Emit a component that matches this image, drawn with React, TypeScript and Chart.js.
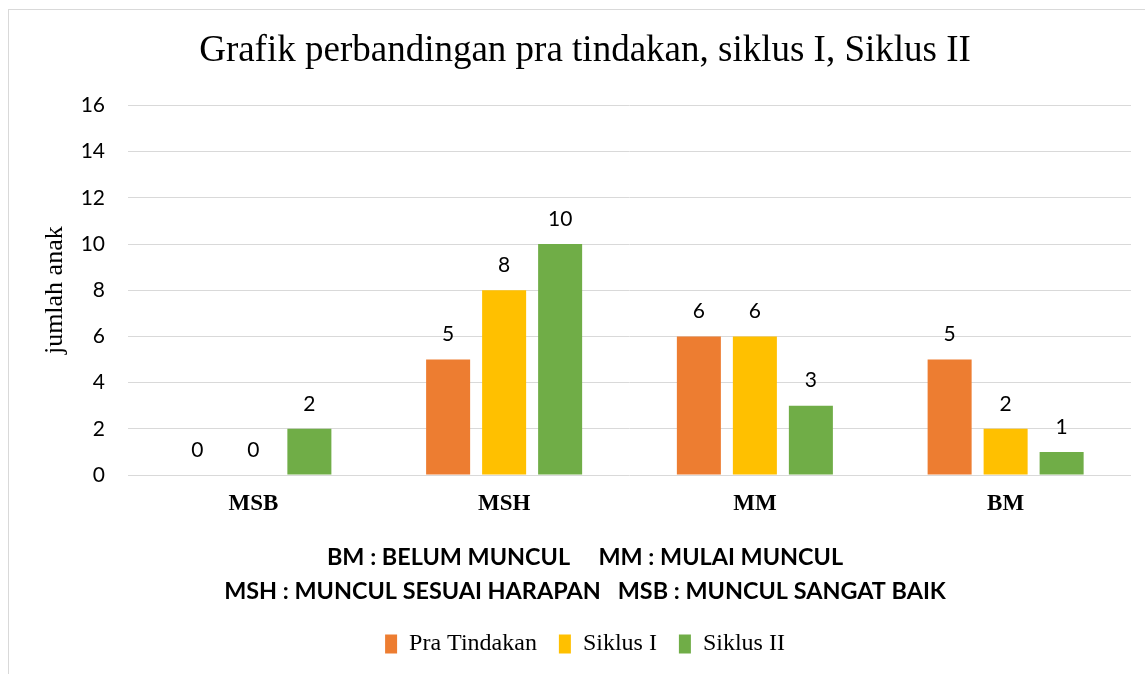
import React, { useEffect, useRef } from 'react';
import { Chart, registerables } from 'chart.js';

Chart.register(...registerables);

const categories = ['MSB', 'MSH', 'MM', 'BM'];
const seriesNames = ['Pra Tindakan', 'Siklus I', 'Siklus II'];
const praTindakan = [0, 5, 6, 5];
const siklusI = [0, 8, 6, 2];
const siklusII = [2, 10, 3, 1];
const seriesColors = ['#ED7D31', '#FFC000', '#70AD47'];
const yMin = 0;
const yMax = 16;
const yStep = 2;
const chartTitle = 'Grafik perbandingan pra tindakan, siklus I, Siklus II';
const yAxisTitle = 'jumlah anak';
const captionLines = [
  'BM : BELUM MUNCUL     MM : MULAI MUNCUL',
  'MSH : MUNCUL SESUAI HARAPAN   MSB : MUNCUL SANGAT BAIK',
];

const valueLabels = {
  id: 'valueLabels',
  afterDatasetsDraw(chart: any) {
    const ctx = chart.ctx;
    ctx.save();
    ctx.font = '21px Lato';
    ctx.fillStyle = '#000';
    ctx.textAlign = 'center';
    ctx.textBaseline = 'middle';
    chart.data.datasets.forEach((ds: any, i: number) => {
      const meta = chart.getDatasetMeta(i);
      meta.data.forEach((bar: any, j: number) => {
        ctx.fillText(String(ds.data[j]), bar.x, bar.y - 25);
      });
    });
    ctx.restore();
  },
};

export default function App() {
  const ref = useRef<HTMLCanvasElement>(null);

  useEffect(() => {
    if (!ref.current) return;
    const seriesData = [praTindakan, siklusI, siklusII];
    const chart = new Chart(ref.current, {
      type: 'bar',
      data: {
        labels: categories,
        datasets: seriesNames.map((name, i) => ({
          label: name,
          data: seriesData[i],
          backgroundColor: seriesColors[i],
          borderWidth: 0,
        })),
      },
      options: {
        responsive: false,
        animation: false,
        devicePixelRatio: 1,
        layout: { padding: { left: 30, right: 30, top: 0, bottom: 8 } },
        datasets: { bar: { categoryPercentage: 0.67, barPercentage: 0.786 } },
        plugins: {
          title: {
            display: true,
            text: chartTitle,
            color: '#000',
            font: { family: 'Liberation Serif', size: 37, weight: 'normal' },
            padding: { top: 19, bottom: 32 },
          },
          subtitle: {
            display: true,
            position: 'bottom',
            weight: 500,
            text: captionLines,
            color: '#000',
            font: { family: 'Lato', size: 23.4, weight: 'bold', lineHeight: '34px' },
            padding: { top: 7.4, bottom: 2 },
          },
          legend: {
            position: 'bottom',
            labels: {
              boxWidth: 12,
              boxHeight: 19,
              padding: 22,
              color: '#000',
              font: { family: 'Liberation Serif', size: 24 },
            },
          },
          tooltip: { enabled: false },
        },
        scales: {
          x: {
            grid: { display: false, drawTicks: false },
            border: { display: false },
            ticks: {
              color: '#000',
              padding: 15,
              font: { family: 'Liberation Serif', size: 23, weight: 'bold' },
            },
          },
          y: {
            min: yMin,
            max: yMax,
            ticks: {
              stepSize: yStep,
              padding: 23,
              color: '#000',
              font: { family: 'Lato', size: 21 },
            },
            grid: { color: '#d9d9d9', drawTicks: false },
            border: { display: false },
            title: {
              display: true,
              text: yAxisTitle,
              color: '#000',
              font: { family: 'Liberation Serif', size: 26 },
              padding: { top: 1, bottom: 0 },
            },
            afterFit: (s: any) => {
              s.width = 89;
            },
          },
        },
      },
      plugins: [valueLabels],
    } as any);
    return () => chart.destroy();
  }, []);

  return (
    <div
      style={{
        position: 'fixed',
        left: 8,
        top: 9,
        width: 1200,
        height: 700,
        borderLeft: '1px solid #d9d9d9',
        borderTop: '1px solid #d9d9d9',
        boxSizing: 'border-box',
        background: '#fff',
      }}
    >
      <canvas ref={ref} width={1152} height={664} style={{ display: 'block' }} />
    </div>
  );
}
